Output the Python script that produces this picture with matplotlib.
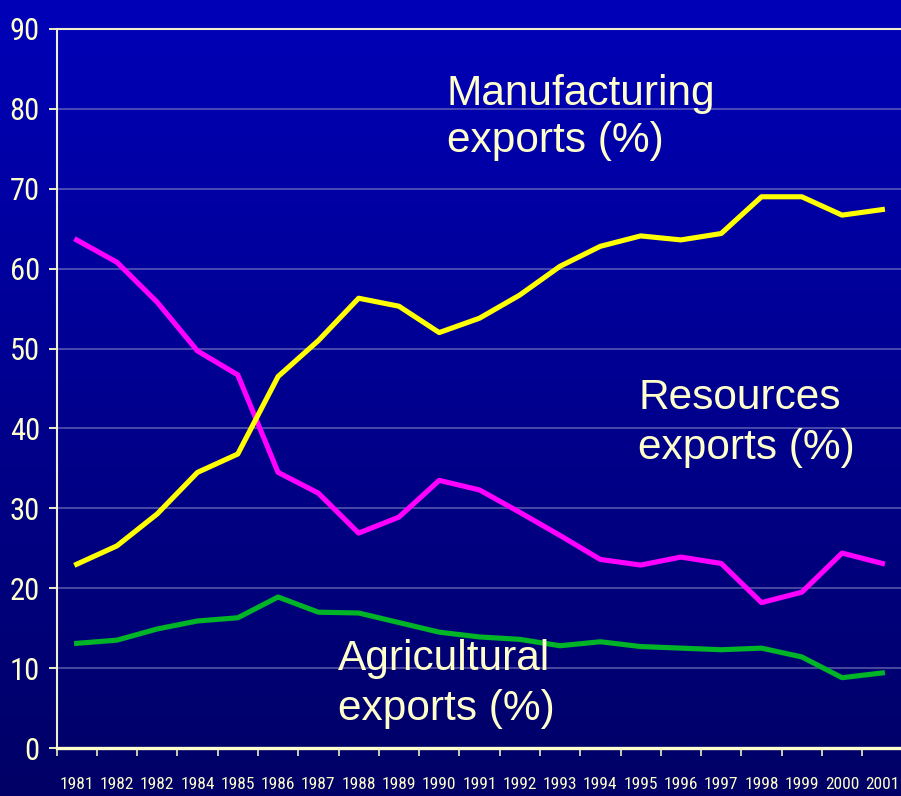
import matplotlib
matplotlib.use('Agg')
import matplotlib.pyplot as plt
import numpy as np
from matplotlib.colors import LinearSegmentedColormap
from matplotlib import font_manager as fm
from matplotlib.font_manager import FontProperties

# ---- data ----
years = ['1981', '1982', '1982', '1984', '1985', '1986', '1987', '1988', '1989', '1990',
         '1991', '1992', '1993', '1994', '1995', '1996', '1997', '1998', '1999', '2000', '2001']
manufacturing = [23.0, 25.3, 29.3, 34.5, 36.8, 46.5, 51.0, 56.3, 55.3, 52.0,
                 53.8, 56.7, 60.3, 62.8, 64.1, 63.6, 64.4, 69.0, 69.0, 66.7, 67.4]
resources = [63.6, 60.8, 55.8, 49.7, 46.7, 34.5, 31.9, 26.9, 28.9, 33.5,
             32.3, 29.5, 26.6, 23.6, 22.9, 23.9, 23.1, 18.2, 19.5, 24.4, 23.1]
agricultural = [13.1, 13.5, 14.9, 15.9, 16.3, 18.9, 17.0, 16.9, 15.7, 14.5,
                13.9, 13.6, 12.8, 13.3, 12.7, 12.5, 12.3, 12.5, 11.4, 8.8, 9.4]
y_ticks = [0, 10, 20, 30, 40, 50, 60, 70, 80, 90]
labels = {
    'manufacturing': ['Manufacturing', 'exports (%)'],
    'resources': ['Resources', 'exports (%)'],
    'agricultural': ['Agricultural', 'exports (%)'],
}

W, H = 901, 796
cream = '#ffffcc'
sans = ['Liberation Sans', 'DejaVu Sans']

# look for a condensed face for the tick labels
def find_narrow():
    prefs = ['Liberation Sans Narrow', 'Arial Narrow', 'Roboto Condensed',
             'Open Sans Condensed', 'Noto Sans Condensed', 'DejaVu Sans Condensed']
    cands = []
    for f in fm.fontManager.ttflist:
        st = str(f.stretch).lower()
        nm = f.name
        condensed = ('narrow' in nm.lower() or 'condensed' in nm.lower()
                     or 'condensed' in st or 'narrow' in f.fname.lower()
                     or 'condensed' in f.fname.lower())
        if not condensed or f.style != 'normal':
            continue
        w = f.weight if isinstance(f.weight, int) else 400
        if w not in (400,):
            continue
        cands.append(f)
    if not cands:
        return None
    def rank(f):
        key = f.name + ' ' + f.fname
        for i, p in enumerate(prefs):
            if p.split()[0].lower() in key.lower():
                return i
        return len(prefs)
    cands.sort(key=rank)
    return cands[0].fname

narrow_path = find_narrow()

def tick_font(size_narrow, size_regular):
    if narrow_path:
        return FontProperties(fname=narrow_path, size=size_narrow)
    return FontProperties(family=sans, size=size_regular)

fig = plt.figure(figsize=(W / 100, H / 100), dpi=100)

# background gradient
bg = fig.add_axes([0, 0, 1, 1])
bg.axis('off')
bg.set_zorder(-10)
grad = np.linspace(0, 1, 256).reshape(-1, 1)
cmap = LinearSegmentedColormap.from_list('bg', ['#0000b8', '#000066'])
bg.imshow(grad, aspect='auto', cmap=cmap, extent=[0, 1, 0, 1], origin='upper')

ax = fig.add_axes([56.5 / W, 1 - 748 / H, 846 / W, (748 - 29) / H])
ax.set_facecolor('none')
x = np.arange(len(years))

ax.yaxis.grid(True, color='#9090c8', alpha=0.55, lw=1.3, zorder=0)
ax.set_axisbelow(True)

ax.plot(x, agricultural, color='#00b428', lw=3.7, zorder=3)
ax.plot(x, resources, color='#ff00ff', lw=3.7, zorder=3)
ax.plot(x, manufacturing, color='#ffff00', lw=3.7, zorder=4)

ax.set_xlim(-0.5, 20.5)
ax.set_ylim(0, 90)
ax.set_yticks(y_ticks)
ax.set_xticks(x)
ax.set_xticklabels(years)
ax.set_xticks(np.arange(-0.5, 21, 1), minor=True)

ax.tick_params(axis='x', which='major', length=0, pad=21, labelcolor=cream)
ax.tick_params(axis='x', which='minor', length=6, width=1.3, color='#dcdcb8', direction='out')
ax.tick_params(axis='y', which='major', length=6, width=1.3, color=cream, direction='out',
               pad=6, labelcolor=cream)
xfp = tick_font(12.5, 10)
yfp = tick_font(22, 18)
for lbl in ax.get_xticklabels():
    lbl.set_fontproperties(xfp)
for lbl in ax.get_yticklabels():
    lbl.set_fontproperties(yfp)

for side in ['left', 'top']:
    ax.spines[side].set_color('#f0f0d0')
    ax.spines[side].set_linewidth(1.5)
ax.spines['bottom'].set_color(cream)
ax.spines['bottom'].set_linewidth(2.4)
ax.spines['right'].set_visible(False)

def put(lines, px, py1, py2):
    for line, py in zip(lines, [py1, py2]):
        fig.text(px / W, 1 - py / H, line, ha='left', va='baseline', fontsize=30.5,
                 color=cream, family=sans)

put(labels['manufacturing'], 447, 105, 152)
put(labels['resources'], 638, 409, 459)
put(labels['agricultural'], 338, 670, 720)

fig.savefig('out.png', dpi=100)
